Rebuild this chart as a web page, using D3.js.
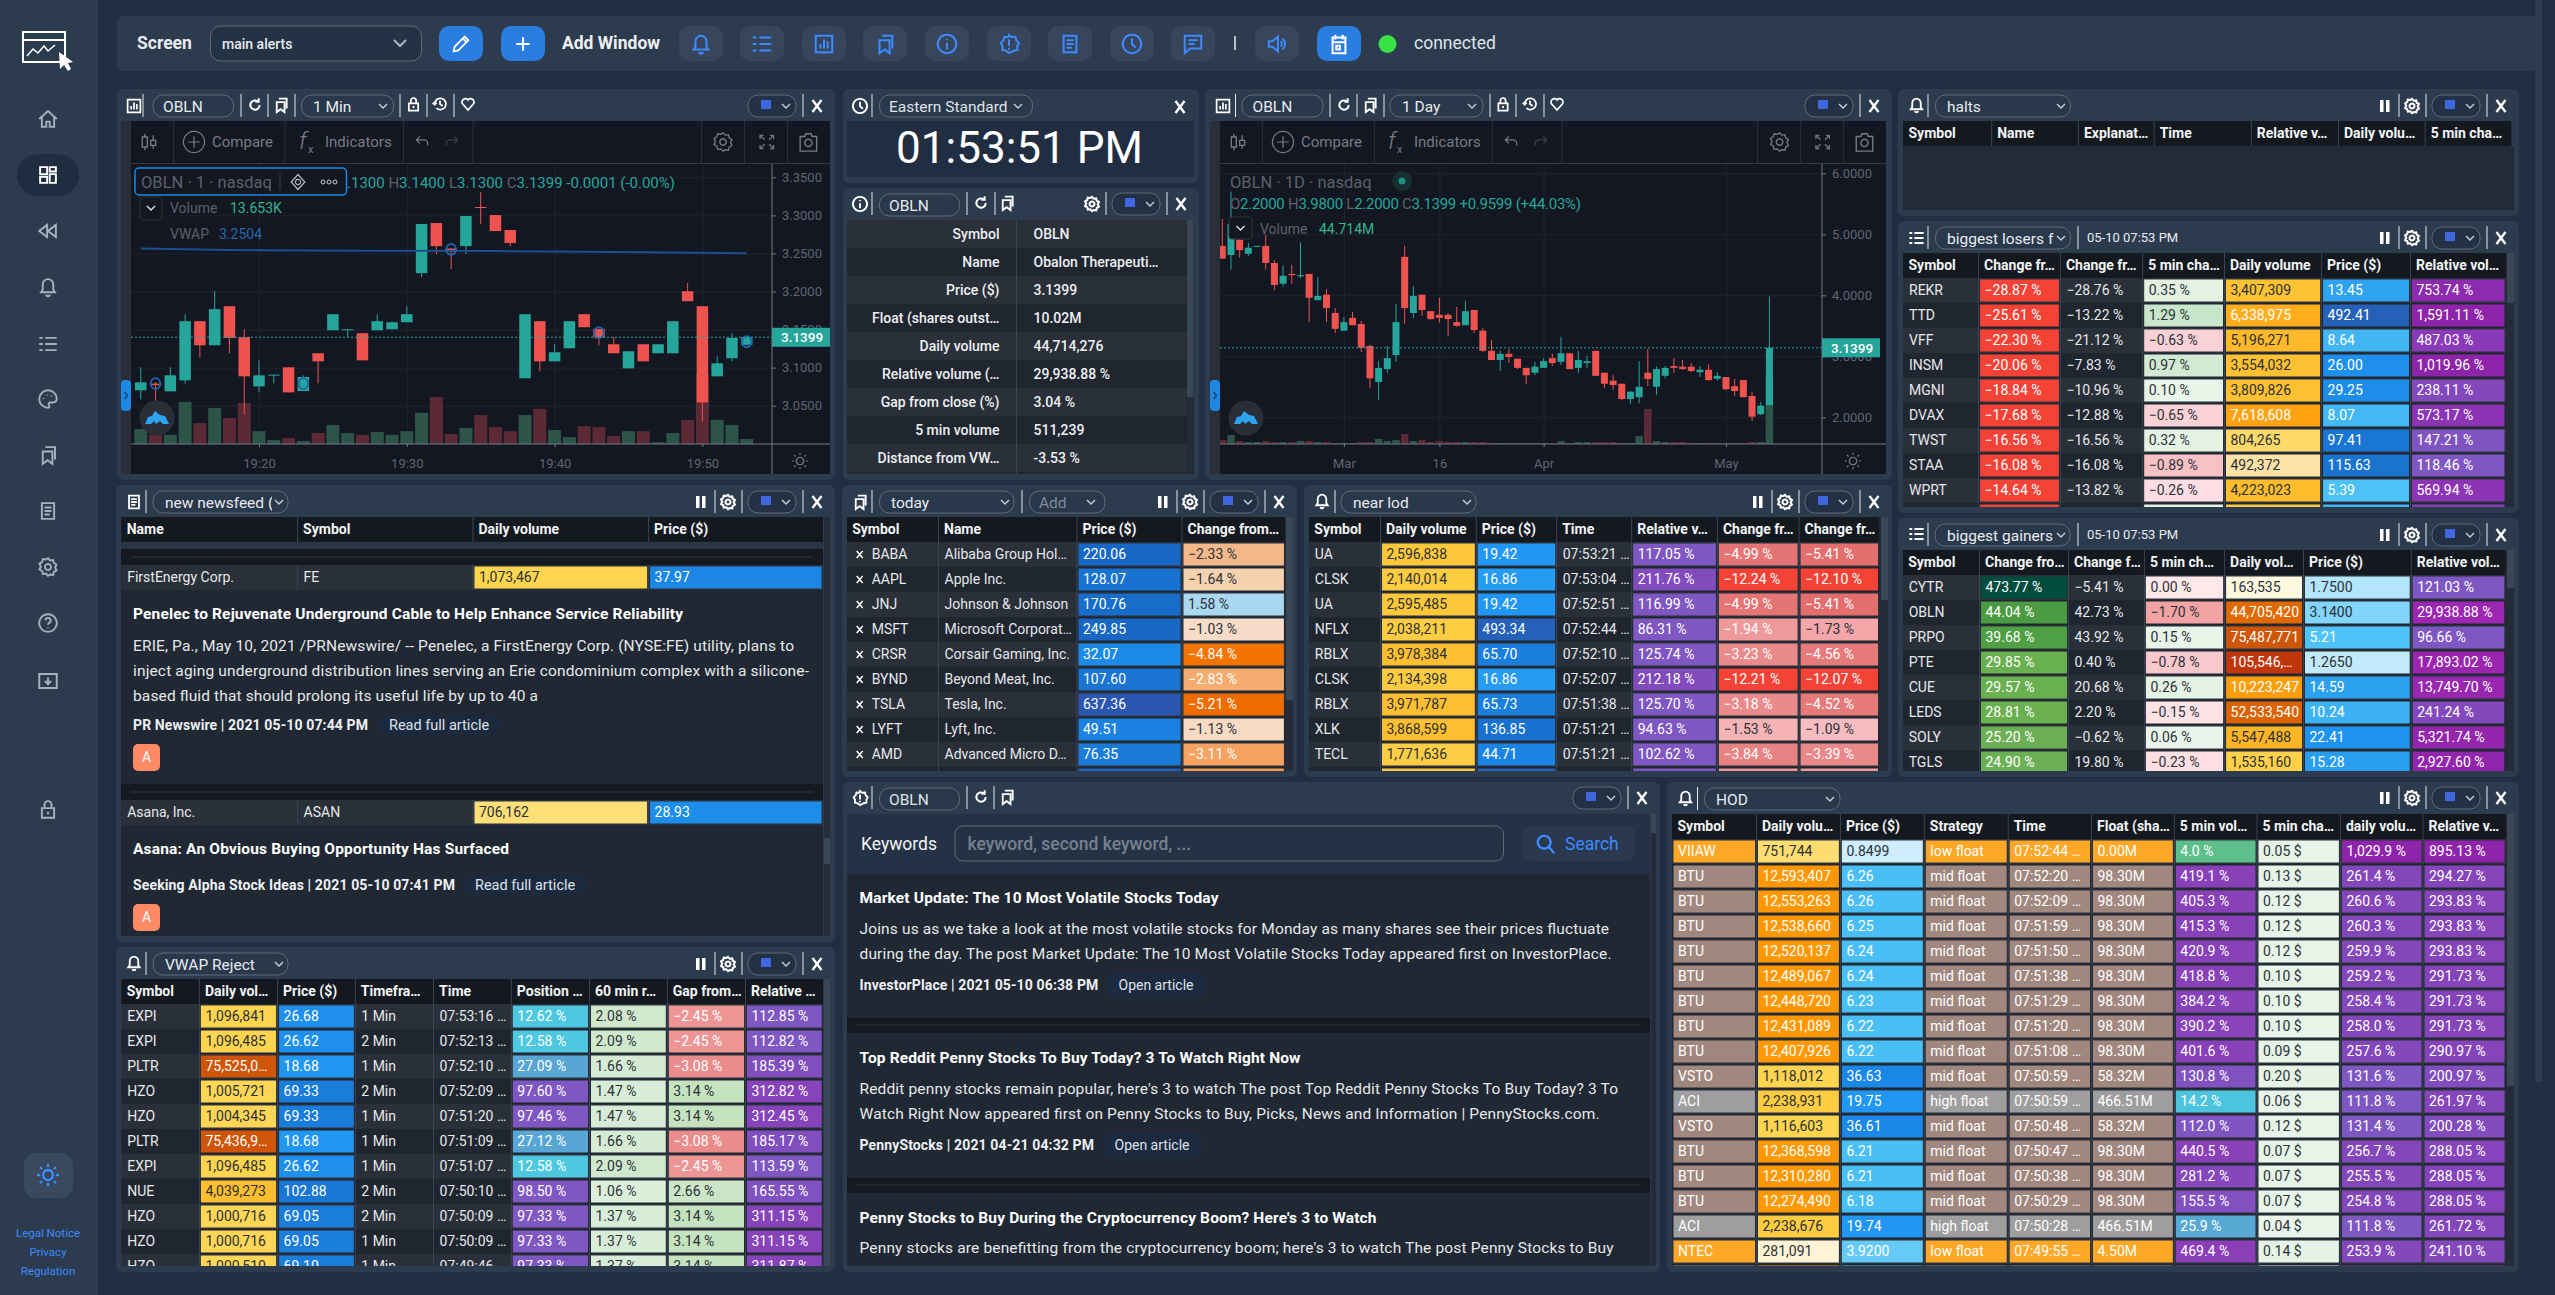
<!DOCTYPE html>
<html>
<head>
<meta charset="utf-8">
<script src="https://cdnjs.cloudflare.com/ajax/libs/d3/7.8.5/d3.min.js"></script>
<style>
html, body { margin: 0; padding: 0; background: #212e42; overflow: hidden; }
text { font-family: Roboto, sans-serif; }
</style>
</head>
<body>
<div id="my_dashboard"></div>
<script>
// ---------- chart values ----------
// one minute chart: open, high, low, close from 19:12
var minuteCandles = [
  [3.0702,3.1004,3.0583,3.0807],[3.0790,3.0810,3.0496,3.0770],[3.0689,3.1004,3.0689,3.0899],[3.0833,3.1702,3.0790,3.1610],
  [3.1610,3.1610,3.1136,3.1294],[3.1294,3.2004,3.1294,3.1768],[3.1807,3.1807,3.1189,3.1390],[3.1400,3.1500,3.0386,3.0886],
  [3.0754,3.1096,3.0675,3.0899],[3.0899,3.0908,3.0794,3.0908],[3.1004,3.1004,3.0675,3.0675],[3.0693,3.0899,3.0693,3.0877],
  [3.1189,3.1189,3.0794,3.1083],[3.1491,3.1702,3.1491,3.1702],[3.1491,3.1504,3.1390,3.1504],[3.1452,3.1452,3.1096,3.1096],
  [3.1491,3.1702,3.1491,3.1610],[3.1504,3.1610,3.1504,3.1596],[3.1596,3.1807,3.1596,3.1702],[3.2241,3.2886,3.2189,3.2886],
  [3.2899,3.2899,3.2491,3.2596],[3.2565,3.2565,3.2294,3.2522],[3.2596,3.2991,3.2491,3.2991],[3.3110,3.3307,3.2886,3.3097],
  [3.3004,3.3004,3.2794,3.2794],[3.2807,3.2807,3.2596,3.2636],[3.0860,3.1702,3.0860,3.1702],[3.1610,3.1610,3.0952,3.1083],
  [3.1083,3.1307,3.1083,3.1202],[3.1254,3.1610,3.1254,3.1610],[3.1702,3.1702,3.1531,3.1531],[3.1509,3.1509,3.1294,3.1400],
  [3.1307,3.1400,3.1189,3.1189],[3.0991,3.1215,3.0991,3.1215],[3.1307,3.1307,3.1083,3.1083],[3.1189,3.1307,3.1189,3.1307],
  [3.1189,3.1610,3.1189,3.1610],[3.2004,3.2110,3.1873,3.1873],[3.1807,3.1807,3.0294,3.0544],[3.0886,3.1149,3.0886,3.1057],
  [3.1123,3.1452,3.1083,3.1390],[3.1300,3.1400,3.1300,3.1399]
];
var minuteVolume = [41,25,25,115,57,98,71,112,35,11,16,8,30,52,30,25,33,25,35,85,128,27,44,79,46,35,79,96,38,19,49,46,22,35,35,5,30,66,191,66,52,13.65];
var minuteVwapAt = [0,6,15,24,30,36,41];
var minuteVwap = [3.2566,3.2544,3.2535,3.2531,3.2522,3.2513,3.2504];
var minuteMarkAt = [1,11,21,31,41];
var minuteMarks = [3.079,3.079,3.2553,3.146,3.134];
var minuteTicks = [3.05,3.10,3.15,3.20,3.25,3.30,3.35];

// one day chart: open, high, low, close
var dayCandles = [
  [4.81,5.25,4.60,4.60],[4.66,5.70,4.42,5.17],[4.91,4.99,4.62,4.74],[4.68,4.86,4.64,4.78],[4.80,4.81,4.80,4.81],[4.81,4.99,4.42,4.53],
  [4.53,4.58,4.09,4.17],[4.19,4.49,4.14,4.32],[4.35,4.50,4.19,4.33],[4.31,4.87,4.28,4.33],[4.35,4.35,3.56,3.96],[3.92,4.30,3.92,3.99],
  [4.01,4.10,3.56,3.79],[3.71,3.79,3.38,3.45],[3.42,3.64,3.42,3.56],[3.63,3.73,3.51,3.51],[3.53,3.58,3.07,3.14],[3.17,3.19,2.48,2.64],
  [2.58,2.92,2.28,2.81],[2.79,3.17,2.73,2.97],[3.02,3.86,2.91,3.56],[4.63,4.81,3.53,3.79],[3.71,4.15,3.63,3.99],[4.01,4.01,3.66,3.76],
  [3.74,3.74,3.60,3.61],[3.68,3.96,3.55,3.63],[3.68,3.71,3.33,3.61],[3.56,3.81,3.48,3.50],[3.51,3.91,3.51,3.74],[3.76,3.76,3.38,3.43],
  [3.42,3.46,3.07,3.09],[3.09,3.27,2.94,2.94],[2.94,3.09,2.76,3.04],[3.04,3.12,2.89,2.99],[2.96,2.96,2.79,2.81],[2.81,2.81,2.55,2.69],
  [2.73,2.91,2.69,2.83],[2.81,2.97,2.81,2.92],[2.97,3.04,2.84,2.89],[2.91,3.32,2.86,3.05],[3.05,3.05,2.79,2.79],[2.81,3.09,2.73,2.94],
  [2.89,3.01,2.81,2.92],[3.09,3.09,2.68,2.68],[2.73,2.73,2.48,2.55],[2.60,2.69,2.45,2.53],[2.55,2.55,2.28,2.30],[2.30,2.43,2.22,2.42],
  [2.33,2.92,2.23,2.50],[2.73,3.12,2.51,2.63],[2.50,2.83,2.37,2.79],[2.68,2.84,2.64,2.81],[2.84,2.97,2.73,2.81],[2.83,2.94,2.78,2.79],
  [2.83,2.89,2.74,2.76],[2.74,2.84,2.66,2.78],[2.78,2.87,2.60,2.61],[2.63,2.74,2.60,2.68],[2.66,2.66,2.45,2.46],[2.51,2.63,2.35,2.43],
  [2.61,2.61,2.33,2.33],[2.35,2.42,1.94,2.01],[2.05,2.25,2.04,2.19],[2.20,3.98,2.20,3.14]
];
var dayVolume = [2.56,5.75,1.9,1.28,1.28,1.9,1.28,1.28,1.28,1.9,1.9,1.28,1.28,.64,.64,.64,1.28,1.28,3.2,1.9,2.56,6.4,1.9,2.56,1.28,1.9,1.28,1.28,1.28,1.28,1.28,.64,.64,.64,.64,.64,.64,.64,.64,1.9,.64,1.28,1.28,1.28,1.28,1.28,.64,.64,5.1,22.4,1.9,1.28,1.28,1.28,.64,.64,.64,.64,.64,.64,.64,1.28,1.28,44.71];
var dayTickAt = [14,25,37,58];
var dayTickLabels = ["Mar","16","Apr","May"];
var dayTicks = [2,3,4,5,6];
var lastPrice = 3.1399;

// company info panel
var infoLabels = ["Symbol","Name","Price ($)","Float (shares outst…","Daily volume","Relative volume (…","Gap from close (%)","5 min volume","Distance from VW…"];
var infoValues = ["OBLN","Obalon Therapeuti…","3.1399","10.02M","44,714,276","29,938.88 %","3.04 %","511,239","-3.53 %"];

// halts
var haltHeads = ["Symbol","Name","Explanat…","Time","Relative v…","Daily volu…","5 min cha…"];

// biggest losers
var loserHeads = ["Symbol","Change fr…","Change fr…","5 min cha…","Daily volume","Price ($)","Relative vol…"];
var loserSymbols = ["REKR","TTD","VFF","INSM","MGNI","DVAX","TWST","STAA","WPRT",""];
var loserChange = [-28.87,-25.61,-22.30,-20.06,-18.84,-17.68,-16.56,-16.08,-14.64,-14.2];
var loserOpenChange = [-28.76,-13.22,-21.12,-7.83,-10.96,-12.88,-16.56,-16.08,-13.82,-13];
var loser5min = [0.35,1.29,-0.63,0.97,0.10,-0.65,0.32,-0.89,-0.26,0.2];
var loserVolume = [3407309,6338975,5196271,3554032,3809826,7618608,804265,492372,4223023,2500000];
var loserPrice = [13.45,492.41,8.64,26.00,29.25,8.07,97.41,115.63,5.39,9];
var loserRelVol = [753.74,1591.11,487.03,1019.96,238.11,573.17,147.21,118.46,569.94,300];

// biggest gainers
var gainerHeads = ["Symbol","Change fro…","Change f…","5 min ch…","Daily vol…","Price ($)","Relative vol…"];
var gainerSymbols = ["CYTR","OBLN","PRPO","PTE","CUE","LEDS","SOLY","TGLS"];
var gainerChange = [473.77,44.04,39.68,29.85,29.57,28.81,25.20,24.90];
var gainerOpenChange = [-5.41,42.73,43.92,0.40,20.68,2.20,-0.62,19.80];
var gainer5min = [0.00,-1.70,0.15,-0.78,0.26,-0.15,0.06,-0.23];
var gainerVolume = [163535,44705420,75487771,105546000,10223247,52533540,5547488,1535160];
var gainerPrice = [1.75,3.14,5.21,1.265,14.59,10.24,22.41,15.28];
var gainerRelVol = [121.03,29938.88,96.66,17893.02,13749.70,241.24,5321.74,2927.60];

// today watchlist
var todayHeads = ["Symbol","Name","Price ($)","Change from…"];
var todaySymbols = ["BABA","AAPL","JNJ","MSFT","CRSR","BYND","TSLA","LYFT","AMD",""];
var todayNames = ["Alibaba Group Hol…","Apple Inc.","Johnson & Johnson","Microsoft Corporat…","Corsair Gaming, Inc.","Beyond Meat, Inc.","Tesla, Inc.","Lyft, Inc.","Advanced Micro D…",""];
var todayPrice = [220.06,128.07,170.76,249.85,32.07,107.60,637.36,49.51,76.35,400];
var todayChange = [-2.33,-1.64,1.58,-1.03,-4.84,-2.83,-5.21,-1.13,-3.11,-3.4];

// near lod
var lodHeads = ["Symbol","Daily volume","Price ($)","Time","Relative v…","Change fr…","Change fr…"];
var lodSymbols = ["UA","CLSK","UA","NFLX","RBLX","CLSK","RBLX","XLK","TECL",""];
var lodVolume = [2596838,2140014,2595485,2038211,3978384,2134398,3971787,3868599,1771636,2500000];
var lodPrice = [19.42,16.86,19.42,493.34,65.70,16.86,65.73,136.85,44.71,490];
var lodTime = ["07:53:21 PM","07:53:04 PM","07:52:51 PM","07:52:44 PM","07:52:10 PM","07:52:07 PM","07:51:38 PM","07:51:21 PM","07:51:21 PM",""];
var lodRelVol = [117.05,211.76,116.99,86.31,125.74,212.18,125.70,94.63,102.62,110];
var lodChange = [-4.99,-12.24,-4.99,-1.94,-3.23,-12.21,-3.18,-1.53,-3.84,-2.2];
var lodOpenChange = [-5.41,-12.10,-5.41,-1.73,-4.56,-12.07,-4.52,-1.09,-3.39,-2];

// VWAP reject
var vwapHeads = ["Symbol","Daily vol…","Price ($)","Timefra…","Time","Position …","60 min r…","Gap from…","Relative …"];
var vwapSymbols = ["EXPI","EXPI","PLTR","HZO","HZO","PLTR","EXPI","NUE","HZO","HZO","HZO"];
var vwapVolume = [1096841,1096485,75525000,1005721,1004345,75436900,1096485,4039273,1000716,1000716,1000510];
var vwapPrice = [26.68,26.62,18.68,69.33,69.33,18.68,26.62,102.88,69.05,69.05,69.10];
var vwapFrame = ["1 Min","2 Min","1 Min","2 Min","1 Min","1 Min","1 Min","2 Min","2 Min","1 Min","1 Min"];
var vwapTime = ["07:53:16 PM","07:52:13 PM","07:52:10 PM","07:52:09 PM","07:51:20 PM","07:51:09 PM","07:51:07 PM","07:50:10 PM","07:50:09 PM","07:50:09 PM","07:49:46 PM"];
var vwapPosition = [12.62,12.58,27.09,97.60,97.46,27.12,12.58,98.50,97.33,97.33,97.33];
var vwapRange = [2.08,2.09,1.66,1.47,1.47,1.66,2.09,1.06,1.37,1.37,1.37];
var vwapGap = [-2.45,-2.45,-3.08,3.14,3.14,-3.08,-2.45,2.66,3.14,3.14,3.14];
var vwapRelVol = [112.85,112.82,185.39,312.82,312.45,185.17,113.59,165.55,311.15,311.15,311.87];

// HOD
var hodHeads = ["Symbol","Daily volu…","Price ($)","Strategy","Time","Float (sha…","5 min vol…","5 min cha…","daily volu…","Relative v…"];
var hodSymbols = ["VIIAW","BTU","BTU","BTU","BTU","BTU","BTU","BTU","BTU","VSTO","ACI","VSTO","BTU","BTU","BTU","ACI","NTEC","BTU"];
var hodVolume = [751744,12593407,12553263,12538660,12520137,12489067,12448720,12431089,12407926,1118012,2238931,1116603,12368598,12310280,12274490,2238676,281091,12250000];
var hodPrice = [0.8499,6.26,6.26,6.25,6.24,6.24,6.23,6.22,6.22,36.63,19.75,36.61,6.21,6.21,6.18,19.74,3.92,6.18];
var hodStrategy = ["low float","mid float","mid float","mid float","mid float","mid float","mid float","mid float","mid float","mid float","high float","mid float","mid float","mid float","mid float","high float","low float","mid float"];
var hodTime = ["07:52:44 PM","07:52:20 PM","07:52:09 PM","07:51:59 PM","07:51:50 PM","07:51:38 PM","07:51:29 PM","07:51:20 PM","07:51:08 PM","07:50:59 PM","07:50:59 PM","07:50:48 PM","07:50:47 PM","07:50:38 PM","07:50:29 PM","07:50:28 PM","07:49:55 PM",""];
var hodFloat = [0.00,98.30,98.30,98.30,98.30,98.30,98.30,98.30,98.30,58.32,466.51,58.32,98.30,98.30,98.30,466.51,4.50,98.30];
var hodVol5 = [4.0,419.1,405.3,415.3,420.9,418.8,384.2,390.2,401.6,130.8,14.2,112.0,440.5,281.2,155.5,25.9,469.4,300];
var hodChange5 = [0.05,0.13,0.12,0.12,0.12,0.10,0.10,0.10,0.09,0.20,0.06,0.12,0.07,0.07,0.07,0.04,0.14,0.07];
var hodDailyPct = [1029.9,261.4,260.6,260.3,259.9,259.2,258.4,258.0,257.6,131.6,111.8,131.4,256.7,255.5,254.8,111.8,253.9,254];
var hodRelVol = [895.13,294.27,293.83,293.83,293.83,291.73,291.73,291.73,290.97,200.97,261.97,200.28,288.05,288.05,288.05,261.72,241.10,288];

// newsfeed
var feedHeads = ["Name","Symbol","Daily volume","Price ($)"];
var feedNames = ["FirstEnergy Corp.","Asana, Inc."];
var feedSymbols = ["FE","ASAN"];
var feedVolume = [1073467,706162];
var feedPrice = [37.97,28.93];
var feedTitles = ["Penelec to Rejuvenate Underground Cable to Help Enhance Service Reliability","Asana: An Obvious Buying Opportunity Has Surfaced"];
var feedLines = ["ERIE, Pa., May 10, 2021 /PRNewswire/ -- Penelec, a FirstEnergy Corp. (NYSE:FE) utility, plans to","inject aging underground distribution lines serving an Erie condominium complex with a silicone-","based fluid that should prolong its useful life by up to 40 a"];
var feedSources = ["PR Newswire | 2021 05-10 07:44 PM","Seeking Alpha Stock Ideas | 2021 05-10 07:41 PM"];

// keyword search articles
var articleTitles = ["Market Update: The 10 Most Volatile Stocks Today","Top Reddit Penny Stocks To Buy Today? 3 To Watch Right Now","Penny Stocks to Buy During the Cryptocurrency Boom? Here's 3 to Watch"];
var articleLines = [
  ["Joins us as we take a look at the most volatile stocks for Monday as many shares see their prices fluctuate","during the day. The post Market Update: The 10 Most Volatile Stocks Today appeared first on InvestorPlace."],
  ["Reddit penny stocks remain popular, here's 3 to watch The post Top Reddit Penny Stocks To Buy Today? 3 To","Watch Right Now appeared first on Penny Stocks to Buy, Picks, News and Information | PennyStocks.com."],
  ["Penny stocks are benefitting from the cryptocurrency boom; here's 3 to watch The post Penny Stocks to Buy"]
];
var articleSources = ["InvestorPlace | 2021 05-10 06:38 PM","PennyStocks | 2021 04-21 04:32 PM"];

// ---------- colour scales for the table cells ----------
var volumeColor = d3.scaleLog().clamp(true)
  .domain([163535,281091,492372,706162,804265,1073467,2238931,3407309,5196271,7618608,12593407,44705420,75487771,105546000])
  .range(["#fff8e1","#fff3d6","#ffe3a6","#ffdf78","#ffda68","#ffd54f","#ffcb40","#ffc233","#ffb92a","#ffa313","#ff9800","#e06900","#cf5508","#bf360c"]);
var priceColor = d3.scaleLog().clamp(true)
  .domain([0.8499,1.265,1.75,3.14,3.92,5.21,10.24,14.59,19.42,26,36,69,103,220,492,637])
  .range(["#cfeefd","#c2eafd","#b3e5fc","#81d4fa","#66caf8","#4fc3f7","#3db2f3","#2aa0ef","#2196f3","#1e90ec","#1b87e6","#1a7ddb","#1976d2","#1768c6","#2561b8","#2b57b0"]);
var relVolColor = d3.scaleLog().clamp(true)
  .domain([86,130,260,500,900,1500,29938])
  .range(["#7e57c2","#7e57c2","#8446bb","#8a3ab8","#8e24aa","#8e24aa","#9c27b0"]);
var redColor = d3.scaleLinear().clamp(true)
  .domain([-12.1,-5.41,-3.2,-1.94,-1.73,-1.53,-1.09])
  .range(["#f44336","#e46e6e","#e98b8b","#ef9a9a","#f4a6a8","#f6b3b5","#f8bcc0"]);
var strongGreen = d3.scaleLog().clamp(true)
  .domain([24.9,29.85,39.68,44.04,473.77])
  .range(["#6cb056","#69b050","#4f9f45","#4b9b42","#004d40"]);
var lightGreen = d3.scaleLinear().clamp(true)
  .domain([0,1,3.14])
  .range(["#e8f5e9","#dcefdc","#c5e3bf"]);
var smallMove = d3.scaleLinear().clamp(true)
  .domain([-1.7,-0.89,-0.63,-0.15,0,0.06,0.35,1.29])
  .range(["#f2a4a4","#f7c1c5","#f9d2d7","#ffe2e6","#ffe8ea","#e9f5ea","#e3f2e1","#c8e6c9"]);
var orangeMove = d3.scaleLinear().clamp(true)
  .domain([-5.21,-4.84,-3.11,-2.33,-1.64,-1.03,0,1.58])
  .range(["#ef6c00","#f27300","#f4a460","#f4b98a","#f6d1ae","#f7ddc9","#f7ede3","#a9d8f0"]);
var positionColor = d3.scaleLog().clamp(true)
  .domain([4,12.6,14.2,25.9,97,469])
  .range(["#5fbf8a","#4dc8e0","#4dc4de","#57a9d4","#7e57c2","#8a3fb8"]);
var strategyColor = d3.scaleOrdinal()
  .domain(["low float","mid float","high float"])
  .range(["#ffa726","#a1887f","#9e9e9e"]);

function strategyFill(v, r) { return strategyColor(hodStrategy[r]); }
function changeFill(v) { return v < 0 ? redColor(v) : strongGreen(v); }
function gapFill(v) { return v < 0 ? redColor(v) : lightGreen(v); }

// formats for the cell text
var fmtInt = d3.format(",");
var fmtPct = function(v) { return d3.format(",.2f")(v) + " %"; };
var fmtPct1 = function(v) { return d3.format(",.1f")(v) + " %"; };
var fmtPrice = function(v) { return v < 5 ? v.toFixed(4) : v.toFixed(2); };
var fmtUsd = function(v) { return v.toFixed(2) + " $"; };
var fmtFloat = function(v) { return v.toFixed(2) + "M"; };

// ---------- page ----------
var W = 2555, H = 1295;
var svg = d3.select("#my_dashboard").append("svg").attr("width", W).attr("height", H);

var panelFill = "#2d3b4e", rowA = "#2a3039", rowB = "#1f2630", headFill = "#14191f", bodyFill = "#202833", lineFill = "#5d6b7b";
var clipCount = 0;

function box(x0, y0, x1, y1, fill, r, parent) {
  return (parent || svg).append("rect").attr("x", x0).attr("y", y0).attr("width", x1 - x0).attr("height", y1 - y0).attr("fill", fill).attr("rx", r || 0);
}
function label(x, y, str, size, fill, weight, anchor, parent) {
  return (parent || svg).append("text").attr("x", x).attr("y", y).attr("dy", "0.35em").attr("font-size", size).attr("fill", fill)
    .attr("font-weight", weight || 400).attr("text-anchor", anchor || "start").text(str);
}
// long running text: spread to the width it has in the reference
function wide(sel, w) { return sel.attr("textLength", w).attr("lengthAdjust", "spacing"); }
function makeClip(x0, y0, x1, y1) {
  clipCount++;
  svg.append("clipPath").attr("id", "clip" + clipCount).append("rect").attr("x", x0).attr("y", y0).attr("width", x1 - x0).attr("height", y1 - y0);
  return "url(#clip" + clipCount + ")";
}

// small line icons in a 24 unit box
var iconPaths = {
  bell: "M12 3a6 6 0 0 0-6 6v6l-2 3h16l-2-3V9a6 6 0 0 0-6-6zM10 20.5a2 2 0 0 0 4 0",
  list: "M9 5h13M9 12h13M9 19h13M2 5h4M2 12h4M2 19h4",
  chart: "M3 3h18v18H3zM8 17v-5M12 17V7M16 17v-8",
  books: "M6 8h11v14l-5.5-4L6 22zM9 3h11v14",
  info: "M12 2a10 10 0 1 0 .01 0zM12 11v7M12 6.5v1.5",
  alert: "M12 2l3 2.6 4-.4 1 3.9 3 2.9-2 3.4.2 4-3.9 1L12 22l-3.3-2.6-3.9-1 .2-4-2-3.4 3-2.9 1-3.9 4 .4zM12 7v7M12 16v2",
  news: "M5 3h14v18H5zM8 8h8M8 12h8M8 16h6",
  clock: "M12 2a10 10 0 1 0 .01 0zM12 6v6l4 4",
  chat: "M3 3h18v14H9l-6 5zM7 8h10M7 12h7",
  sound: "M3 9v6h4l6 5V4L7 9zM16 9a4 4 0 0 1 0 6M18 6a8 8 0 0 1 0 12",
  calendar: "M5 5h14v17H5zM5 10h14M8 2v5M16 2v5M9 14h4v4H9z",
  pencil: "M4 20l1-5L16 4l4 4L9 19zM14 6l4 4",
  plus: "M12 4v16M4 12h16",
  refresh: "M19 12a7 7 0 1 1-2.2-5M17.5 2v5h-5",
  lock: "M5 11h14v11H5zM8 11V7a4 4 0 0 1 8 0v4M12 15v3",
  history: "M4 12a8.5 8.5 0 1 1 2.5 6M1 10l3 3 3-3M12 7v5l4 3",
  heart: "M12 21L4 12a5 5 0 0 1 8-6 5 5 0 0 1 8 6z",
  gear: "M12 2l2.4 2.5 3.5-.5.8 3.4 3 1.8-1.5 3.3 1.5 3.3-3 1.8-.8 3.4-3.5-.5L12 22l-2.4-2.5-3.5.5-.8-3.4-3-1.8 1.5-3.3-1.5-3.3 3-1.8.8-3.4 3.5.5zM12 8.5a3.5 3.5 0 1 0 .01 0z",
  home: "M2 12L12 3l10 9M5 10v11h5v-6h4v6h5V10",
  grid: "M3 3h8v8H3zM14 3h7v5h-7zM14 11h7v10h-7zM3 14h8v7H3z",
  rewind: "M11 5L2 12l9 7zM21 5l-9 7 9 7z",
  palette: "M12 2a10 10 0 0 0 0 20c2 0 2-2 1-3s0-3 2-3h3c2 0 4-2 4-4 0-6-5-10-10-10zM7 11v1M11 7v1M16 8v1",
  help: "M12 2a10 10 0 1 0 .01 0zM9 9a3 3 0 1 1 4 3c-1 .5-1 1-1 2M12 17v1",
  download: "M2 4h20v16H2zM12 8v7M8.5 12l3.5 3.5 3.5-3.5",
  sun: "M12 7a5 5 0 1 0 .01 0zM12 1v3M12 20v3M1 12h3M20 12h3M4 4l2 2M18 18l2 2M4 20l2-2M18 6l2-2",
  search: "M10 3a7 7 0 1 0 .01 0zM15 15l6 7",
  candles: "M7 2v4M7 18v4M4 6h6v12H4zM17 4v6M17 16v4M14 10h6v6h-6z",
  expand: "M3 8V3h5M3 3l6 6M21 8V3h-5M21 3l-6 6M3 16v5h5M3 21l6-6M21 16v5h-5M21 21l-6-6",
  camera: "M3 6h5l1-3h6l1 3h5v16H3zM12 9a4 4 0 1 0 .01 0z",
  undo: "M4 9h11a5 5 0 0 1 5 5v3M9 4L4 9l5 5",
  redo: "M20 9H9a5 5 0 0 0-5 5v3M15 4l5 5-5 5",
  circlePlus: "M12 1a11 11 0 1 0 .01 0zM12 6v12M6 12h12",
  eye: "M12 2l9 10-9 10-9-10zM12 8.5a3.5 3.5 0 1 0 .01 0z"
};
function icon(name, cx, cy, size, color, sw, parent) {
  return (parent || svg).append("path").attr("d", iconPaths[name])
    .attr("transform", "translate(" + (cx - size / 2) + "," + (cy - size / 2) + ") scale(" + size / 24 + ")")
    .attr("fill", "none").attr("stroke", color).attr("stroke-width", sw || 2.4);
}

function sep(x, cy) {
  svg.append("line").attr("x1", x).attr("x2", x).attr("y1", cy - 12).attr("y2", cy + 11).attr("stroke", "#e4e8ee").attr("stroke-width", 1);
}
function chevron(x, cy, color) {
  svg.append("path").attr("d", "M" + (x - 4) + " " + (cy - 2) + "l4 4 4-4").attr("fill", "none").attr("stroke", color || "#c3cad3").attr("stroke-width", 1.5);
}
function pill(x0, x1, cy, str, fg, tx, chev) {
  box(x0, cy - 11, x1, cy + 11, "#2a384b", 10).attr("stroke", lineFill);
  if (str) label(tx, cy + 1, str, 15.5, fg || "#e8ebef", 400).attr("clip-path", makeClip(x0, cy - 11, chev ? chev - 7 : x1 - 4, cy + 11));
  if (chev) chevron(chev, cy);
}
function closeX(x, cy) {
  svg.append("path").attr("d", "M" + (x - 4.5) + " " + (cy - 6) + "l9 12m0-12l-9 12").attr("stroke", "#fff").attr("stroke-width", 2.4).attr("fill", "none");
}
function rightTools(right, cy, pause, gear) {
  if (pause) {
    box(right - 139, cy - 6, right - 135.5, cy + 6, "#fff");
    box(right - 133, cy - 6, right - 129.5, cy + 6, "#fff");
    sep(right - 120, cy);
  }
  if (gear) {
    icon("gear", right - 107, cy, 17, "#fff", 3);
    sep(right - 93, cy);
  }
  box(right - 87, cy - 11, right - 39, cy + 11, "#243044", 10).attr("stroke", lineFill);
  box(right - 74, cy - 6, right - 64, cy + 3, "#3f67e0");
  chevron(right - 49, cy);
  sep(right - 32, cy);
  closeX(right - 18, cy);
}
function panel(x0, y0, x1, y1) { box(x0, y0, x1, y1, panelFill, 6); }

// ---------- table: cells placed with a column scale and a row band scale ----------
function drawTable(cfg) {
  var n = cfg.cols.length, rowH = cfg.rowH || 25;
  var x = d3.scaleLinear().domain(d3.range(n + 1)).range(cfg.edges);
  var rows = d3.range(cfg.cols[0].values ? cfg.cols[0].values.length : 0);
  var right = cfg.edges[n];
  var g = svg.append("g");
  if (cfg.clipTo) g.attr("clip-path", makeClip(cfg.edges[0], cfg.headTop !== undefined ? cfg.headTop : cfg.rowTop, right, cfg.clipTo));

  if (cfg.headTop !== undefined) {
    box(cfg.edges[0], cfg.headTop, right, cfg.headTop + 25, headFill, 0, g);
    g.selectAll(".headline").data(d3.range(1, n)).enter().append("line")
      .attr("x1", function(d) { return x(d); }).attr("x2", function(d) { return x(d); })
      .attr("y1", cfg.headTop).attr("y2", cfg.headTop + 25).attr("stroke", "#394454");
    g.selectAll(".head").data(cfg.cols).enter().append("text")
      .attr("x", function(d, i) { return x(i) + 5.5; }).attr("y", cfg.headTop + 12.5).attr("dy", "0.35em")
      .attr("font-size", 14).attr("font-weight", 700).attr("fill", "#f2f4f6")
      .text(function(d) { return d.head; });
  }
  if (!rows.length) return;

  var rowTop = cfg.rowTop !== undefined ? cfg.rowTop : cfg.headTop + 25;
  var y = d3.scaleBand().domain(rows).range([rowTop, rowTop + rows.length * rowH]);

  g.selectAll(".stripe").data(rows).enter().append("rect")
    .attr("x", cfg.edges[0]).attr("width", right - cfg.edges[0])
    .attr("y", function(d) { return y(d); }).attr("height", y.bandwidth())
    .attr("fill", function(d) { return d % 2 ? rowB : rowA; });
  g.selectAll(".colline").data(d3.range(1, n)).enter().append("line")
    .attr("x1", function(d) { return x(d); }).attr("x2", function(d) { return x(d); })
    .attr("y1", rowTop).attr("y2", rowTop + rows.length * rowH).attr("stroke", "#394454");

  cfg.cols.forEach(function(col, c) {
    var cg = g.append("g");
    var fillOf = function(v, r) { return col.fill ? col.fill(v, r) : null; };
    if (col.fill) {
      cg.selectAll("rect").data(col.values).enter().append("rect")
        .attr("x", x(c) + 1.5).attr("width", x(c + 1) - x(c) - 3)
        .attr("y", function(d, r) { return y(r) + 1.5; }).attr("height", y.bandwidth() - 3)
        .attr("fill", function(d, r) { return fillOf(d, r); });
    }
    var pad = col.mark ? 25 : 6;
    var padR = col.padR !== undefined ? col.padR : (cfg.padR === undefined ? 2 : cfg.padR);
    cg.selectAll("text").data(col.values).enter().append("text")
      .attr("x", x(c) + pad).attr("y", function(d, r) { return y(r) + y.bandwidth() / 2; }).attr("dy", "0.35em")
      .attr("font-size", 14)
      .attr("fill", function(d, r) {
        var f = fillOf(d, r);
        if (!f) return "#e6e8eb";
        return d3.lab(f).l > (col.inkAt || 78) ? "#2b3138" : "#fff";
      })
      .text(function(d) { return col.fmt ? col.fmt(d) : d; })
      .each(function() {
        // same job as text-overflow: ellipsis
        var el = d3.select(this), s = el.text(), room = x(c + 1) - x(c) - pad - padR;
        while (s.length > 1 && this.getComputedTextLength() > room) {
          s = s.slice(0, -1);
          el.text(s + "…");
        }
      });
    if (col.mark) {
      cg.selectAll("path").data(col.values.filter(function(d) { return d; })).enter().append("path")
        .attr("d", function(d, r) { var py = y(r) + y.bandwidth() / 2; return "M" + (x(c) + 10) + " " + (py - 3.5) + "l6 7m0-7l-6 7"; })
        .attr("stroke", "#fff").attr("stroke-width", 1.5);
    }
  });
}
function scrollBar(x0, x1, y0, y1, thumbTo) {
  box(x0, y0, x1, y1, "#232c38");
  box(x0, y0, x1, thumbTo, "#3a4757");
}

// ---------- candle charts ----------
function chartFrame(o) {
  box(o.left, 121, o.right, 474, "#131722");
  box(o.left, 121, o.plot0, 474, "#2a2e39");
  box(o.left, 380, o.plot0, 411, "#1e88e5", 4);
  svg.append("path").attr("d", "M" + (o.left + 3.5) + " 392l3 3.5-3 3.5").attr("stroke", "#0f3f70").attr("fill", "none").attr("stroke-width", 1.4);
  svg.append("line").attr("x1", o.plot0).attr("x2", o.right).attr("y1", 163.5).attr("y2", 163.5).attr("stroke", "#363a45");
  svg.selectAll(null).data(o.toolSeps).enter().append("line")
    .attr("x1", function(d) { return d; }).attr("x2", function(d) { return d; }).attr("y1", 121).attr("y2", 163).attr("stroke", "#2a2e39");
  var c = "#787b86";
  icon("candles", o.plot0 + 18, 142, 20, c, 1.6);
  icon("circlePlus", o.compareX, 142, 23, c, 1.3);
  label(o.compareX + 18, 142, "Compare", 15, c);
  svg.append("text").attr("x", o.indX).attr("y", 149).attr("font-size", 24).attr("font-style", "italic").attr("fill", c).attr("font-weight", 300).text("f");
  svg.append("text").attr("x", o.indX + 9).attr("y", 153).attr("font-size", 11).attr("fill", c).text("x");
  label(o.indX + 26, 142, "Indicators", 15, c);
  icon("undo", o.undoX, 142, 17, c, 1.7);
  icon("redo", o.undoX + 30, 142, 17, "#3d414c", 1.7);
  icon("gear", o.toolX[0], 142, 22, c, 1.5);
  icon("expand", o.toolX[1], 142, 18, c, 1.6);
  icon("camera", o.toolX[2], 142, 22, c, 1.5);
  icon("sun", o.axisX + (o.right - o.axisX) / 2 - 1, 461, 18, c, 1.6);
}

function drawCandles(o) {
  var clip = makeClip(o.plot0, 164, o.axisX, 444);
  var fg = "#5f6672", green = "#26a69a", red = "#ef5350";

  // gridlines and axes
  var xGrid = svg.append("g").attr("transform", "translate(0,444)").call(o.xAxis().tickSize(-280).tickFormat(""));
  xGrid.select(".domain").remove();
  xGrid.selectAll("text").remove();
  xGrid.selectAll("line").attr("stroke", "#1f2430");
  var yGrid = svg.append("g").attr("transform", "translate(" + o.axisX + ",0)").call(d3.axisLeft(o.y).tickValues(o.yTicks).tickSize(o.axisX - o.plot0).tickFormat(""));
  yGrid.select(".domain").remove();
  yGrid.selectAll("text").remove();
  yGrid.selectAll("line").attr("stroke", "#1f2430");

  var vol = d3.scaleLinear().domain([0, d3.max(o.volume)]).range([444, 374]);
  var plot = svg.append("g").attr("clip-path", clip);
  plot.selectAll(".vol").data(o.volume).enter().append("rect")
    .attr("x", function(d, i) { return o.px(i) - o.volW / 2; }).attr("width", o.volW)
    .attr("y", function(d) { return vol(d); }).attr("height", function(d) { return 444 - vol(d); })
    .attr("fill", function(d, i) { return o.candles[i][3] >= o.candles[i][0] ? "#2d5449" : "#5c2a35"; });

  var colorOf = function(d) { return d[3] >= d[0] ? green : red; };
  plot.selectAll(".wick").data(o.candles).enter().append("line")
    .attr("x1", function(d, i) { return o.px(i); }).attr("x2", function(d, i) { return o.px(i); })
    .attr("y1", function(d) { return o.y(d[1]); }).attr("y2", function(d) { return o.y(d[2]); })
    .attr("stroke", colorOf).attr("stroke-width", 1);
  plot.selectAll(".body").data(o.candles).enter().append("rect")
    .attr("x", function(d, i) { return o.px(i) - o.bodyW / 2; }).attr("width", o.bodyW)
    .attr("y", function(d) { return o.y(Math.max(d[0], d[3])); })
    .attr("height", function(d) { return Math.max(1, Math.abs(o.y(d[0]) - o.y(d[3]))); })
    .attr("fill", colorOf);

  if (o.vwap) {
    plot.append("path").datum(o.vwap)
      .attr("d", d3.line().x(function(d) { return o.px(d[0]); }).y(function(d) { return o.y(d[1]); }))
      .attr("fill", "none").attr("stroke", "#1f4f8f").attr("stroke-width", 2);
  }
  if (o.marks) {
    plot.selectAll(".mark").data(o.marks).enter().append("ellipse")
      .attr("cx", function(d) { return o.px(d[0]); }).attr("cy", function(d) { return o.y(d[1]); })
      .attr("rx", 4.8).attr("ry", 5.5).attr("fill", "none").attr("stroke", "#1e63b0").attr("stroke-width", 1.8);
  }
  plot.append("line").attr("x1", o.plot0).attr("x2", o.axisX).attr("y1", o.y(lastPrice)).attr("y2", o.y(lastPrice))
    .attr("stroke", green).attr("stroke-dasharray", "2 2");

  // axes with labels
  var xa = svg.append("g").attr("transform", "translate(0,444)").call(o.xAxis().tickSize(3).tickPadding(12));
  xa.select(".domain").remove();
  xa.selectAll("line").attr("stroke", "#787b86");
  xa.selectAll("text").attr("font-size", 13).attr("fill", fg).attr("font-family", "Roboto");
  var ya = svg.append("g").attr("transform", "translate(" + o.axisX + ",0)").call(d3.axisRight(o.y).tickValues(o.yTicks).tickSize(4).tickPadding(6).tickFormat(d3.format(".4f")));
  ya.select(".domain").remove();
  ya.selectAll("line").attr("stroke", "#787b86");
  ya.selectAll("text").attr("font-size", 13).attr("fill", fg).attr("font-family", "Roboto");

  svg.append("line").attr("x1", o.plot0).attr("x2", o.right).attr("y1", 444).attr("y2", 444).attr("stroke", "#787b86").attr("stroke-width", 1.2);
  svg.append("line").attr("x1", o.axisX).attr("x2", o.axisX).attr("y1", 164).attr("y2", 474).attr("stroke", "#787b86");

  // last price tag
  box(o.axisX, o.y(lastPrice) - 9.5, o.axisX + 58, o.y(lastPrice) + 9.5, green);
  label(o.axisX + 9, o.y(lastPrice) + 0.5, d3.format(".4f")(lastPrice), 13.5, "#fff", 500);

  // logo in the corner
  var lx = o.logoX;
  svg.append("ellipse").attr("cx", lx).attr("cy", 418).attr("rx", 17.5).attr("ry", 17.5).attr("fill", "#2a2e39");
  svg.append("path").attr("d", "M" + (lx - 12) + " 424l3-7 4-1 3-5 5 4 5 1 4 8h-6l-3-3-4 3-2-3-3 3z")
    .attr("fill", "#2ea3f2");
}

function legendRow(x, y, parts, w) {
  var t = svg.append("text").attr("x", x).attr("y", y).attr("dy", "0.35em").attr("font-size", 15);
  t.selectAll("tspan").data(parts).enter().append("tspan").attr("fill", function(d) { return d[1]; }).text(function(d) { return d[0]; });
  wide(t, w);
}

// ---------- background, sidebar ----------
box(0, 0, W, H, "#212e42");
box(0, 0, 98, H, panelFill);
box(2535, 0, 2542, 1082, panelFill);

// logo
box(23, 32, 65, 62, "none").attr("stroke", "#fff").attr("stroke-width", 2);
svg.append("line").attr("x1", 23).attr("x2", 65).attr("y1", 40).attr("y2", 40).attr("stroke", "#fff").attr("stroke-width", 2);
svg.append("path").attr("d", "M27 56l6-7 5 4 6-7 4 5 7-6").attr("fill", "none").attr("stroke", "#fff").attr("stroke-width", 1.5);
svg.append("path").attr("d", "M59 52l1 17 4-4 4 6 3-2-3-6 5-1z").attr("fill", "#fff");

box(17, 154, 79, 196, "#202d40", 21);
var sideIcons = ["home","grid","rewind","bell","list","palette","books","news","gear","help","download","lock"];
var sideY = [119,175,231,287,344,399,455,511,567,623,681,809];
sideIcons.forEach(function(n, i) { icon(n, 48, sideY[i], 21, n == "grid" ? "#fff" : "#a6b1bf", 2.2); });
box(24, 1153, 73, 1198, "#3a4a5e", 12);
icon("sun", 48, 1175, 24, "#3d8bfd", 2.4);
["Legal Notice","Privacy","Regulation"].forEach(function(s, i) { label(48, 1233 + i * 19, s, 11.5, "#3d8bfd", 400, "middle"); });

// ---------- top bar ----------
panel(117, 16, 2538, 71);
label(137, 43, "Screen", 17.5, "#e8ebef", 700);
box(210.5, 26, 421.5, 61, "#243246", 10).attr("stroke", lineFill);
label(222, 44, "main alerts", 14, "#e8ebef", 500);
svg.append("path").attr("d", "M394 40l6 6 6-6").attr("fill", "none").attr("stroke", "#aeb6c0").attr("stroke-width", 2);
box(439, 26, 483, 61, "#2a7de1", 10);
icon("pencil", 461, 44, 22, "#fff", 2);
box(501, 26, 545, 61, "#2a7de1", 10);
icon("plus", 523, 44, 20, "#fff", 2.4);
label(562, 43, "Add Window", 17.5, "#eef0f3", 700);
var barIcons = ["bell","list","chart","books","info","alert","news","clock","chat"];
var barX = [679,740,802,863,925,987,1048,1110,1171];
barIcons.forEach(function(n, i) {
  box(barX[i], 26, barX[i] + 44, 61, "#37465c", 10);
  icon(n, barX[i] + 22, 44, 22, "#3d8bfd", 2.2);
});
svg.append("line").attr("x1", 1235).attr("x2", 1235).attr("y1", 36).attr("y2", 50).attr("stroke", "#dfe3e8").attr("stroke-width", 1.6);
box(1255, 26, 1299, 61, "#37465c", 10);
icon("sound", 1277, 44, 22, "#3d8bfd", 2.2);
box(1317, 26, 1361, 61, "#2a7de1", 10);
icon("calendar", 1339, 44, 22, "#fff", 2.2);
svg.append("circle").attr("cx", 1387.5).attr("cy", 44).attr("r", 9).attr("fill", "#39e046");
label(1414, 43, "connected", 17.5, "#dfe3e8");

// ---------- one minute chart ----------
panel(117, 89, 835, 480);
icon("chart", 134, 106, 17, "#fff", 2.4);
sep(143, 106);
pill(153, 233.5, 106, "OBLN", "#e8ebef", 163);
sep(241, 106); icon("refresh", 255, 105, 16, "#fff", 3);
sep(268, 106); icon("books", 281, 105, 17, "#fff", 2.6);
sep(295, 106);
pill(301.5, 393.5, 106, "1 Min", "#e8ebef", 313, 383);
sep(400, 106); icon("lock", 413.5, 104, 16, "#fff", 2.6);
sep(427, 106); icon("history", 440, 104, 16, "#fff", 2.6);
sep(454, 106); icon("heart", 468, 104, 16, "#fff", 2.6);
rightTools(835, 106, false, false);

var minuteTime = function(i) { return d3.timeMinute.offset(new Date(2021, 4, 10, 19, 12), i); };
var minuteX = d3.scaleTime().domain([minuteTime(8), minuteTime(38)]).range([259, 702.4]);
var minuteY = d3.scaleLinear().domain([3.05, 3.35]).range([405.7, 177.3]);

chartFrame({ left: 121, right: 830, plot0: 131, axisX: 772, toolSeps: [173.5, 285, 403.5, 473, 701.5, 744.5, 787.5],
  compareX: 194, indX: 299, undoX: 422, toolX: [723, 766.8, 808.4] });
drawCandles({
  plot0: 131, axisX: 772, right: 830, logoX: 157,
  y: minuteY, yTicks: minuteTicks, candles: minuteCandles, volume: minuteVolume,
  px: function(i) { return minuteX(minuteTime(i)); }, bodyW: 11.5, volW: 13,
  xAxis: function() { return d3.axisBottom(minuteX).ticks(d3.timeMinute.every(10)).tickFormat(d3.timeFormat("%H:%M")); },
  vwap: minuteVwapAt.map(function(d, i) { return [d, minuteVwap[i]]; }),
  marks: minuteMarkAt.map(function(d, i) { return [d, minuteMarks[i]]; })
});
box(135, 168, 346.5, 195, "#131722", 4).attr("stroke", "#1e88e5").attr("stroke-width", 1.5);
label(141, 182, "OBLN · 1 · nasdaq", 16.5, "#5d606b");
svg.append("line").attr("x1", 280).attr("x2", 280).attr("y1", 174).attr("y2", 190).attr("stroke", "#3a3e4a");
icon("eye", 298, 182, 18, "#b8bcc5", 1.6);
svg.selectAll(null).data([323, 329, 335]).enter().append("circle").attr("cx", function(d) { return d; }).attr("cy", 182).attr("r", 2).attr("fill", "none").attr("stroke", "#c8ccd3");
var t = "#26a69a", g = "#5d606b";
legendRow(347, 183, [[".1300 ",t],["H",g],["3.1400 ",t],["L",g],["3.1300 ",t],["C",g],["3.1399 ",t],["-0.0001 (-0.00%)",t]], 328);
box(140, 197, 162, 220, "#131722", 3).attr("stroke", "#30343f");
svg.append("path").attr("d", "M147 206l4 4 4-4").attr("stroke", "#d8dbe0").attr("fill", "none").attr("stroke-width", 1.5);
label(170, 208, "Volume", 14, "#5d606b");
label(230, 208, "13.653K", 14, "#35b58c");
label(170, 234, "VWAP", 14, "#5d606b");
label(219, 234, "3.2504", 14, "#2767ad");

// ---------- clock ----------
panel(843, 89, 1199, 183);
icon("clock", 860, 106, 17, "#fff", 2.6);
sep(872, 106);
pill(879.5, 1032.5, 106, "Eastern Standard", "#dfe3e8", 889, 1018);
closeX(1180, 107);
box(847, 121, 1194, 177, "#212e42");
label(1019.5, 148, "01:53:51 PM", 44, "#fff", 400, "middle");

// ---------- info panel ----------
panel(843, 188, 1199, 480);
icon("info", 860, 204, 17, "#fff", 2.6);
sep(872, 204);
pill(879.5, 959.5, 205, "OBLN", "#e8ebef", 889);
sep(967, 204); icon("refresh", 981, 203, 16, "#fff", 3);
sep(995, 204); icon("books", 1007, 203, 17, "#fff", 2.6);
rightTools(1199, 204, false, true);

var infoRow = d3.scaleBand().domain(d3.range(infoLabels.length)).range([220, 472]);
var infoClip = svg.append("g").attr("clip-path", makeClip(847, 220, 1194, 474));
box(847, 220, 1194, 474, rowB, 0, infoClip);
infoClip.selectAll(".inforow").data(infoLabels).enter().append("rect")
  .attr("x", 847).attr("width", 339.5).attr("y", function(d, i) { return infoRow(i); }).attr("height", infoRow.bandwidth())
  .attr("fill", function(d, i) { return i % 2 ? rowB : rowA; });
infoClip.append("line").attr("x1", 1016.5).attr("x2", 1016.5).attr("y1", 220).attr("y2", 474).attr("stroke", "#394454");
infoClip.selectAll(".infolabel").data(infoLabels).enter().append("text")
  .attr("x", 999.5).attr("y", function(d, i) { return infoRow(i) + infoRow.bandwidth() / 2; }).attr("dy", "0.35em")
  .attr("text-anchor", "end").attr("font-size", 14).attr("font-weight", 500).attr("fill", "#eef0f3").text(function(d) { return d; });
infoClip.selectAll(".infovalue").data(infoValues).enter().append("text")
  .attr("x", 1033.5).attr("y", function(d, i) { return infoRow(i) + infoRow.bandwidth() / 2; }).attr("dy", "0.35em")
  .attr("font-size", 14).attr("font-weight", 500).attr("fill", "#eef0f3").text(function(d) { return d; });
scrollBar(1187, 1193.5, 220, 474, 397);

// ---------- one day chart ----------
panel(1205, 89, 1892, 480);
icon("chart", 1223, 106, 17, "#fff", 2.4);
sep(1235.5, 106);
pill(1242, 1323, 106, "OBLN", "#e8ebef", 1252.5);
sep(1330, 106); icon("refresh", 1344, 105, 16, "#fff", 3);
sep(1357, 106); icon("books", 1370, 105, 17, "#fff", 2.6);
sep(1384, 106);
pill(1390, 1483, 106, "1 Day", "#e8ebef", 1402, 1472);
sep(1490, 106); icon("lock", 1503, 104, 16, "#fff", 2.6);
sep(1516, 106); icon("history", 1530, 104, 16, "#fff", 2.6);
sep(1544, 106); icon("heart", 1557, 104, 16, "#fff", 2.6);
rightTools(1892, 106, false, false);

var dayX = d3.scaleLinear().domain([0, dayCandles.length - 1]).range([1222.3, 1769.4]);
var dayY = d3.scaleLinear().domain([2, 6]).range([417.3, 173.3]);
chartFrame({ left: 1210, right: 1886, plot0: 1220, axisX: 1822, toolSeps: [1262.4, 1374.6, 1492.6, 1562, 1757.5, 1800.7, 1843.4],
  compareX: 1283, indX: 1388, undoX: 1511, toolX: [1779.5, 1822.7, 1864.5] });
drawCandles({
  plot0: 1220, axisX: 1822, right: 1886, logoX: 1246,
  y: dayY, yTicks: dayTicks, candles: dayCandles, volume: dayVolume,
  px: dayX, bodyW: 7, volW: 7.5,
  xAxis: function() { return d3.axisBottom(dayX).tickValues(dayTickAt).tickFormat(function(d, i) { return dayTickLabels[i]; }); }
});
label(1230, 182, "OBLN · 1D · nasdaq", 16.5, "#5d606b");
svg.append("circle").attr("cx", 1402).attr("cy", 181).attr("r", 10).attr("fill", "#15302f");
svg.append("circle").attr("cx", 1402).attr("cy", 181).attr("r", 3.5).attr("fill", "#1f8f85");
legendRow(1230, 204, [["O",g],["2.2000 ",t],["H",g],["3.9800 ",t],["L",g],["2.2000 ",t],["C",g],["3.1399 ",t],["+0.9599 (+44.03%)",t]], 351);
box(1229, 217, 1252, 239, "#131722", 3).attr("stroke", "#30343f");
svg.append("path").attr("d", "M1236.5 226l4 4 4-4").attr("stroke", "#d8dbe0").attr("fill", "none").attr("stroke-width", 1.5);
label(1260, 229, "Volume", 14, "#5d606b");
label(1319, 229, "44.714M", 14, "#35b58c");

// ---------- halts ----------
panel(1898, 89, 2519, 216);
icon("bell", 1916.5, 105, 17, "#fff", 2.6);
sep(1928, 106);
pill(1935.5, 2070.5, 106, "halts", "#e8ebef", 1947, 2061);
rightTools(2519, 106, true, true);
box(1903, 146, 2514, 210, "#222b37");
drawTable({ headTop: 121, edges: [1903, 1991.7, 2078.4, 2154.2, 2251.3, 2338.5, 2425.2, 2511.4],
  cols: haltHeads.map(function(h) { return { head: h }; }) });

// ---------- biggest losers ----------
panel(1898, 221, 2519, 513);
icon("list", 1916.5, 238, 17, "#fff", 2.6);
sep(1928, 238);
pill(1935.5, 2070.5, 238, "biggest losers f", "#e8ebef", 1947, 2061);
sep(2078, 238);
label(2087, 237, "05-10 07:53 PM", 13, "#e8ebef");
rightTools(2519, 238, true, true);
box(1903, 253, 2514, 507, "#232c38");
drawTable({ headTop: 253, clipTo: 507, edges: [1903, 1978.6, 2060.4, 2142.7, 2224.5, 2321.6, 2410.5, 2506],
  cols: [
    { head: loserHeads[0], values: loserSymbols },
    { head: loserHeads[1], values: loserChange, fmt: fmtPct, fill: changeFill },
    { head: loserHeads[2], values: loserOpenChange, fmt: fmtPct },
    { head: loserHeads[3], values: loser5min, fmt: fmtPct, fill: smallMove, inkAt: 74 },
    { head: loserHeads[4], values: loserVolume, fmt: fmtInt, fill: volumeColor },
    { head: loserHeads[5], values: loserPrice, fmt: fmtPrice, fill: priceColor },
    { head: loserHeads[6], values: loserRelVol, fmt: fmtPct, fill: relVolColor }
  ] });
scrollBar(2507, 2514, 253, 507, 303);

// ---------- biggest gainers ----------
panel(1898, 518, 2519, 777);
icon("list", 1916.5, 534, 17, "#fff", 2.6);
sep(1928, 535);
pill(1935, 2070, 535, "biggest gainers", "#e8ebef", 1947, 2061);
sep(2078, 535);
label(2087, 534, "05-10 07:53 PM", 13, "#e8ebef");
rightTools(2519, 535, true, true);
box(1903, 550, 2514, 771, "#232c38");
drawTable({ headTop: 550, clipTo: 771, padR: 4, edges: [1902.7, 1979.5, 2068.5, 2144.4, 2224.6, 2303.5, 2411.2, 2505.8],
  cols: [
    { head: gainerHeads[0], values: gainerSymbols },
    { head: gainerHeads[1], values: gainerChange, fmt: fmtPct, fill: changeFill },
    { head: gainerHeads[2], values: gainerOpenChange, fmt: fmtPct },
    { head: gainerHeads[3], values: gainer5min, fmt: fmtPct, fill: smallMove, inkAt: 74 },
    { head: gainerHeads[4], values: gainerVolume, fmt: fmtInt, fill: volumeColor },
    { head: gainerHeads[5], values: gainerPrice, fmt: fmtPrice, fill: priceColor },
    { head: gainerHeads[6], values: gainerRelVol, fmt: fmtPct, fill: relVolColor }
  ] });
scrollBar(2507, 2514, 550, 771, 588);

// ---------- newsfeed ----------
panel(116, 485, 835, 942);
icon("news", 134, 502, 17, "#fff", 2.6);
sep(146, 502);
pill(153, 288, 502, "new newsfeed (", "#e8ebef", 165, 279);
rightTools(835, 502, true, true);
box(121, 542, 823, 936, bodyFill);
box(121, 542, 823, 549, "#2a3546");
drawTable({ headTop: 517, edges: [121.2, 297.6, 473, 648.6, 823], cols: feedHeads.map(function(h) { return { head: h }; }) });
[0, 1].forEach(function(n) {
  var bandY = n ? 784 : 549, rowY = n ? 800 : 565;
  box(121, bandY, 823, rowY, "#151a20");
  svg.append("line").attr("x1", 131).attr("x2", 813).attr("y1", bandY + 8).attr("y2", bandY + 8).attr("stroke", "#2e3540");
  drawTable({ rowTop: rowY, edges: [121.2, 297.6, 473, 648.6, 823],
    cols: [
      { head: "", values: [feedNames[n]] },
      { head: "", values: [feedSymbols[n]] },
      { head: "", values: [feedVolume[n]], fmt: fmtInt, fill: volumeColor },
      { head: "", values: [feedPrice[n]], fmt: fmtPrice, fill: priceColor }
    ] });
});
var feedLineW = [661, 676, 405], feedTitleW = [550, 376], feedSourceW = [235, 322];
wide(label(133, 614, feedTitles[0], 15.5, "#fff", 700), feedTitleW[0]);
feedLines.forEach(function(s, i) { wide(label(133, 646 + i * 25, s, 15.5, "#e6e8eb"), feedLineW[i]); });
wide(label(133, 725, feedSources[0], 14, "#eef0f3", 700), feedSourceW[0]);
box(378.5, 716, 500, 734, "#1c2a40", 9);
label(389, 725, "Read full article", 14.5, "#dfe3e8");
box(133, 744, 160, 771, "#ff8a65", 5);
label(146.5, 757.5, "A", 14, "#fff", 400, "middle");
wide(label(133, 849, feedTitles[1], 15.5, "#fff", 700), feedTitleW[1]);
wide(label(133, 885, feedSources[1], 14, "#eef0f3", 700), feedSourceW[1]);
box(464, 876, 587, 894, "#1c2a40", 9);
label(475, 885, "Read full article", 14.5, "#dfe3e8");
box(133, 904, 160, 931, "#ff8a65", 5);
label(146.5, 917.5, "A", 14, "#fff", 400, "middle");
box(824, 517, 830, 936, "#232c38");
box(824, 838, 830, 864, "#3a4757");

// ---------- VWAP reject ----------
panel(116, 947, 835, 1272);
icon("bell", 134, 963, 17, "#fff", 2.6);
sep(146, 964);
pill(153, 288, 964, "VWAP Reject", "#e8ebef", 165, 279);
rightTools(835, 964, true, true);
drawTable({ headTop: 979, clipTo: 1266, edges: [121.2, 199.4, 277.6, 355.3, 433.5, 511.3, 589.5, 667.3, 745.5, 823.2],
  cols: [
    { head: vwapHeads[0], values: vwapSymbols },
    { head: vwapHeads[1], values: vwapVolume, fmt: fmtInt, fill: volumeColor, padR: 6 },
    { head: vwapHeads[2], values: vwapPrice, fmt: fmtPrice, fill: priceColor },
    { head: vwapHeads[3], values: vwapFrame },
    { head: vwapHeads[4], values: vwapTime },
    { head: vwapHeads[5], values: vwapPosition, fmt: fmtPct, fill: positionColor },
    { head: vwapHeads[6], values: vwapRange, fmt: fmtPct, fill: lightGreen },
    { head: vwapHeads[7], values: vwapGap, fmt: fmtPct, fill: gapFill, inkAt: 74 },
    { head: vwapHeads[8], values: vwapRelVol, fmt: fmtPct, fill: relVolColor }
  ] });
scrollBar(824, 830, 979, 1266, 1266);

// ---------- today ----------
panel(842, 485, 1297, 777);
icon("books", 860, 502, 17, "#fff", 2.6);
sep(872, 502);
pill(879.5, 1014, 502, "today", "#e8ebef", 891, 1005);
sep(1022, 502);
pill(1029.5, 1105, 502, "Add", "#7f8a97", 1039, 1091);
rightTools(1297, 502, true, true);
box(847, 517, 1293, 771, "#232c38");
drawTable({ headTop: 517, clipTo: 771, edges: [846.7, 938.5, 1077, 1182, 1285.4],
  cols: [
    { head: todayHeads[0], values: todaySymbols, mark: true },
    { head: todayHeads[1], values: todayNames },
    { head: todayHeads[2], values: todayPrice, fmt: fmtPrice, fill: priceColor },
    { head: todayHeads[3], values: todayChange, fmt: fmtPct, fill: orangeMove, inkAt: 77 }
  ] });
scrollBar(1286, 1293, 517, 771, 700);

// ---------- near lod ----------
panel(1304, 485, 1892, 777);
icon("bell", 1322, 501, 17, "#fff", 2.6);
sep(1335, 502);
pill(1341, 1476, 502, "near lod", "#e8ebef", 1353, 1467);
rightTools(1892, 502, true, true);
box(1309, 517, 1888, 771, "#232c38");
drawTable({ headTop: 517, clipTo: 771, edges: [1308.8, 1380.5, 1476.3, 1556.7, 1631.7, 1717.4, 1799.1, 1879.5],
  cols: [
    { head: lodHeads[0], values: lodSymbols },
    { head: lodHeads[1], values: lodVolume, fmt: fmtInt, fill: volumeColor },
    { head: lodHeads[2], values: lodPrice, fmt: fmtPrice, fill: priceColor },
    { head: lodHeads[3], values: lodTime },
    { head: lodHeads[4], values: lodRelVol, fmt: fmtPct, fill: relVolColor },
    { head: lodHeads[5], values: lodChange, fmt: fmtPct, fill: redColor, inkAt: 74 },
    { head: lodHeads[6], values: lodOpenChange, fmt: fmtPct, fill: redColor, inkAt: 74 }
  ] });
scrollBar(1881, 1888, 517, 771, 600);

// ---------- keyword search ----------
panel(843, 782, 1660, 1272);
icon("alert", 860, 798, 17, "#fff", 2.6);
sep(872, 798);
pill(879.5, 959.5, 799, "OBLN", "#dfe3e8", 889);
sep(967, 798); icon("refresh", 981, 797, 16, "#fff", 3);
sep(994, 798); icon("books", 1007, 797, 17, "#fff", 2.6);
rightTools(1660, 798, false, false);
box(847, 814, 1650, 874, "#253246");
label(861, 844, "Keywords", 17.5, "#f2f4f6");
box(955, 826, 1503.5, 861, "#253246", 8).attr("stroke", lineFill);
label(967.5, 844, "keyword, second keyword, ...", 17.5, "#77818e", 500);
box(1522, 826, 1635, 861, "#2a3850", 8);
icon("search", 1546, 844, 22, "#3d8bfd", 2.4);
label(1565, 844, "Search", 17.5, "#3d8bfd");
var articles = svg.append("g").attr("clip-path", makeClip(847, 874, 1650, 1266));
box(847, 874, 1650, 1266, bodyFill, 0, articles);
[[1018, 1033], [1178, 1193]].forEach(function(b) {
  box(847, b[0], 1650, b[1], "#151a20", 0, articles);
  articles.append("line").attr("x1", 857).attr("x2", 1640).attr("y1", b[0] + 7).attr("y2", b[0] + 7).attr("stroke", "#2e3540");
});
var artTitleY = [898, 1058, 1218], artLineY = [929, 1089, 1248];
var artTitleW = [359, 441, 517], artLineW = [[749.6, 752], [758.6, 740], [754]], artSourceW = [238.8, 234.5];
articleTitles.forEach(function(s, i) {
  wide(label(859.5, artTitleY[i], s, 15.5, "#fff", 700, "start", articles), artTitleW[i]);
  articleLines[i].forEach(function(l, j) { wide(label(859.5, artLineY[i] + j * 25, l, 15.5, "#e6e8eb", 400, "start", articles), artLineW[i][j]); });
});
wide(label(859.5, 985, articleSources[0], 14, "#eef0f3", 700, "start", articles), artSourceW[0]);
box(1107, 973, 1205, 998, "#1c2a40", 7, articles);
label(1118.5, 985.5, "Open article", 14, "#dfe3e8", 400, "start", articles);
wide(label(859.5, 1145, articleSources[1], 14, "#eef0f3", 700, "start", articles), artSourceW[1]);
box(1103.5, 1133, 1201.5, 1158, "#1c2a40", 7, articles);
label(1114.5, 1145.5, "Open article", 14, "#dfe3e8", 400, "start", articles);
scrollBar(1651, 1656, 814, 1266, 833);

// ---------- HOD ----------
panel(1667, 782, 2519, 1272);
icon("bell", 1685.5, 798, 17, "#fff", 2.6);
sep(1697.5, 799);
pill(1704.5, 1840, 799, "HOD", "#e8ebef", 1716, 1830);
rightTools(2519, 798, true, true);
box(1672, 814, 2514, 1266, "#232c38");
drawTable({ headTop: 814, clipTo: 1266, edges: [1672, 1756.5, 1840.4, 1924.3, 2008.2, 2091.5, 2174.3, 2257, 2340.4, 2423, 2506],
  cols: [
    { head: hodHeads[0], values: hodSymbols, fill: strategyFill },
    { head: hodHeads[1], values: hodVolume, fmt: fmtInt, fill: volumeColor },
    { head: hodHeads[2], values: hodPrice, fmt: fmtPrice, fill: priceColor },
    { head: hodHeads[3], values: hodStrategy, fill: strategyFill },
    { head: hodHeads[4], values: hodTime, fill: strategyFill, padR: 8 },
    { head: hodHeads[5], values: hodFloat, fmt: fmtFloat, fill: strategyFill },
    { head: hodHeads[6], values: hodVol5, fmt: fmtPct1, fill: positionColor },
    { head: hodHeads[7], values: hodChange5, fmt: fmtUsd, fill: lightGreen },
    { head: hodHeads[8], values: hodDailyPct, fmt: fmtPct1, fill: relVolColor },
    { head: hodHeads[9], values: hodRelVol, fmt: fmtPct, fill: relVolColor }
  ] });
scrollBar(2507, 2514, 814, 1266, 1086);
</script>
</body>
</html>
